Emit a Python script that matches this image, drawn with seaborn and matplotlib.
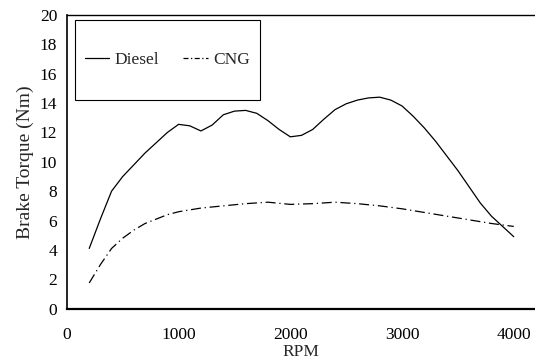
import numpy as np
import pandas as pd
import matplotlib
matplotlib.use("Agg")
import matplotlib.pyplot as plt
from matplotlib.patches import Rectangle
from matplotlib.lines import Line2D
import seaborn as sns

# values
diesel_rpm = [200, 300, 400, 500, 600, 700, 800, 900, 1000, 1100, 1200, 1300, 1400, 1500,
              1600, 1700, 1800, 1900, 2000, 2100, 2200, 2300, 2400, 2500, 2600, 2700, 2800,
              2900, 3000, 3100, 3200, 3300, 3400, 3500, 3600, 3700, 3800, 3900, 4000]
diesel_torque = [4.1, 6.1, 8.0, 9.0, 9.8, 10.6, 11.3, 12.0, 12.55, 12.45, 12.1, 12.5, 13.2, 13.45,
                 13.5, 13.3, 12.8, 12.2, 11.7, 11.8, 12.2, 12.9, 13.55, 13.95, 14.2, 14.35, 14.4,
                 14.2, 13.8, 13.1, 12.3, 11.4, 10.4, 9.4, 8.3, 7.2, 6.3, 5.6, 4.9]
cng_rpm = [200, 300, 400, 500, 600, 700, 800, 900, 1000, 1200, 1400, 1600, 1800, 2000,
           2200, 2400, 2600, 2800, 3000, 3200, 3400, 3600, 3800, 4000]
cng_torque = [1.75, 3.0, 4.1, 4.8, 5.35, 5.8, 6.1, 6.4, 6.6, 6.85, 7.0, 7.15, 7.25, 7.1,
              7.15, 7.25, 7.15, 7.0, 6.8, 6.55, 6.3, 6.05, 5.8, 5.6]
fuels = ["Diesel", "CNG"]
x_ticks = [0, 1000, 2000, 3000, 4000]
y_ticks = list(range(0, 21, 2))

df = pd.concat([
    pd.DataFrame({"RPM": diesel_rpm, "Torque": diesel_torque, "Fuel": "Diesel"}),
    pd.DataFrame({"RPM": cng_rpm, "Torque": cng_torque, "Fuel": "CNG"}),
], ignore_index=True)

sns.set_style("white")
plt.rcParams["font.family"] = ["Liberation Serif", "DejaVu Serif"]

fig = plt.figure(figsize=(5.35, 3.64), dpi=100)
ax = fig.add_axes([0.125, 0.152, 0.875, 0.807])

dash_map = {"Diesel": "", "CNG": (8, 3, 1, 3)}
sns.lineplot(data=df, x="RPM", y="Torque", style="Fuel", dashes=dash_map,
             color="black", linewidth=0.9, ax=ax, legend=False, sort=True)

ax.set_xlim(0, 4190)
ax.set_ylim(0, 20)
ax.set_xticks(x_ticks)
ax.set_yticks(y_ticks)
ax.tick_params(axis="both", direction="out", length=5, width=0.8, colors="black", labelsize=12.5)
ax.tick_params(axis="x", pad=8)
ax.tick_params(axis="y", pad=2)
ax.spines["right"].set_visible(False)
for s in ["left", "bottom", "top"]:
    ax.spines[s].set_color("black")
ax.spines["left"].set_linewidth(1.2)
ax.spines["bottom"].set_linewidth(1.6)
ax.spines["top"].set_linewidth(1.0)
ax.set_xlabel("RPM", fontsize=12.5, labelpad=1)
ax.set_ylabel("Brake Torque (Nm)", fontsize=14, labelpad=4)

# legend box
ax.add_patch(Rectangle((0.017, 0.711), 0.395, 0.272, transform=ax.transAxes,
                       facecolor="white", edgecolor="black", linewidth=0.8, zorder=5))
handles = [Line2D([], [], color="black", lw=0.9),
           Line2D([], [], color="black", lw=0.9, dashes=(4, 2, 1, 2))]
leg = ax.legend(handles, fuels, ncol=2, frameon=False, loc="center",
                bbox_to_anchor=(0.2145, 0.847), fontsize=12.5, handlelength=1.4,
                handletextpad=0.3, columnspacing=1.4)
leg.set_zorder(6)

fig.savefig("out.png", dpi=100)
